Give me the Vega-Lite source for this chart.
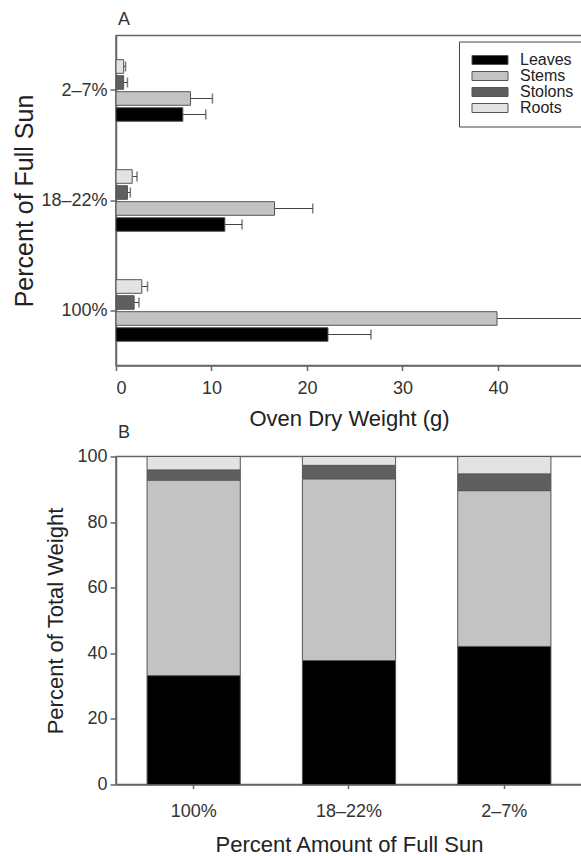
{
  "$schema": "https://vega.github.io/schema/vega-lite/v6.json",
  "padding": {"left": 12, "top": 9.5, "right": 0, "bottom": 0},
  "spacing": -9,
  "config": {
    "font": "Liberation Sans",
    "view": {"stroke": "#666", "strokeWidth": 1.5},
    "axis": {
      "domainColor": "#666", "domainWidth": 1.5, "tickColor": "#666", "tickWidth": 1.5,
      "labelColor": "#333", "titleColor": "#222", "labelFontSize": 18, "titleFontSize": 22,
      "titleFontWeight": "normal", "grid": false, "tickSize": 6, "labelPadding": 3
    },
    "title": {"anchor": "start", "frame": "group", "fontSize": 18, "fontWeight": "normal", "color": "#333"}
  },
  "datasets": {
    "weights": [
      {"sun": "2–7%", "part": "Leaves", "weight": 7.0, "upper": 9.4},
      {"sun": "2–7%", "part": "Stems", "weight": 7.8, "upper": 10.1},
      {"sun": "2–7%", "part": "Stolons", "weight": 0.8, "upper": 1.2},
      {"sun": "2–7%", "part": "Roots", "weight": 0.8, "upper": 1.0},
      {"sun": "18–22%", "part": "Leaves", "weight": 11.4, "upper": 13.2},
      {"sun": "18–22%", "part": "Stems", "weight": 16.6, "upper": 20.6},
      {"sun": "18–22%", "part": "Stolons", "weight": 1.2, "upper": 1.5},
      {"sun": "18–22%", "part": "Roots", "weight": 1.7, "upper": 2.2},
      {"sun": "100%", "part": "Leaves", "weight": 22.2, "upper": 26.7},
      {"sun": "100%", "part": "Stems", "weight": 39.9, "upper": 50.5},
      {"sun": "100%", "part": "Stolons", "weight": 1.9, "upper": 2.4},
      {"sun": "100%", "part": "Roots", "weight": 2.7, "upper": 3.3}
    ],
    "percents": [
      {"sun": "100%", "part": "Leaves", "pct": 33.2},
      {"sun": "100%", "part": "Stems", "pct": 59.6},
      {"sun": "100%", "part": "Stolons", "pct": 3.1},
      {"sun": "100%", "part": "Roots", "pct": 4.1},
      {"sun": "18–22%", "part": "Leaves", "pct": 37.8},
      {"sun": "18–22%", "part": "Stems", "pct": 55.4},
      {"sun": "18–22%", "part": "Stolons", "pct": 4.1},
      {"sun": "18–22%", "part": "Roots", "pct": 2.7},
      {"sun": "2–7%", "part": "Leaves", "pct": 42.1},
      {"sun": "2–7%", "part": "Stems", "pct": 47.5},
      {"sun": "2–7%", "part": "Stolons", "pct": 5.1},
      {"sun": "2–7%", "part": "Roots", "pct": 5.3}
    ]
  },
  "resolve": {"scale": {"color": "independent"}, "legend": {"color": "independent"}},
  "vconcat": [
    {
      "width": 466, "height": 330,
      "title": {"text": "A", "offset": 7, "fontSize": 18, "dx": 2},
      "data": {"name": "weights"},
      "encoding": {
        "y": {"field": "sun", "type": "nominal", "sort": ["2–7%", "18–22%", "100%"],
              "scale": {"paddingInner": 0.44, "paddingOuter": 0.22},
              "axis": {"title": "Percent of Full Sun", "titleFontSize": 25, "titlePadding": 3}},
        "yOffset": {"field": "part", "type": "nominal", "sort": ["Roots", "Stolons", "Stems", "Leaves"],
                    "scale": {"paddingInner": 0.15}}
      },
      "layer": [
        {
          "mark": {"type": "rule", "color": "#444", "strokeWidth": 1.2, "clip": true},
          "encoding": {
            "x": {"field": "weight", "type": "quantitative"},
            "x2": {"field": "upper"}
          }
        },
        {
          "mark": {"type": "tick", "orient": "vertical", "color": "#444", "thickness": 1.5, "size": 10, "clip": true},
          "encoding": {
            "x": {"field": "upper", "type": "quantitative"}
          }
        },
        {
          "mark": {"type": "bar", "stroke": "#555", "strokeWidth": 1},
          "encoding": {
            "x": {"field": "weight", "type": "quantitative",
                  "scale": {"domain": [0, 48.8], "nice": false},
                  "axis": {"title": "Oven Dry Weight (g)", "values": [0, 10, 20, 30, 40], "tickSize": 5,
                           "labelPadding": 8.7, "titlePadding": 11.7}},
            "color": {"field": "part", "type": "nominal",
                      "scale": {"domain": ["Leaves", "Stems", "Stolons", "Roots"],
                                "range": ["#000000", "#c3c3c3", "#5f5f5f", "#e3e3e3"]},
                      "legend": {"title": null, "orient": "none", "legendX": 343, "legendY": 6,
                                 "symbolType": "M-1.1,-0.9H6.1V0.9H-1.1Z", "symbolSize": 100,
                                 "symbolStrokeColor": "#555", "symbolStrokeWidth": 1,
                                 "labelFontSize": 16, "labelColor": "#222", "labelOffset": 34.5,
                                 "rowPadding": 0, "padding": 10.5, "strokeColor": "#444",
                                 "fillColor": "white"}}
          }
        }
      ]
    },
    {
      "width": 466, "height": 328,
      "title": {"text": "B", "offset": 6, "fontSize": 18, "dx": 2},
      "data": {"name": "percents"},
      "transform": [
        {"calculate": "indexof(['Leaves','Stems','Stolons','Roots'], datum.part)", "as": "ord"}
      ],
      "mark": {"type": "bar", "stroke": "#555", "strokeWidth": 1},
      "encoding": {
        "x": {"field": "sun", "type": "nominal", "sort": ["100%", "18–22%", "2–7%"],
              "scale": {"paddingInner": 0.4, "paddingOuter": 0.2},
              "axis": {"title": "Percent Amount of Full Sun", "labelAngle": 0, "tickSize": 4,
                       "labelPadding": 13.7, "titlePadding": 14.7}},
        "y": {"field": "pct", "type": "quantitative", "stack": "zero",
              "scale": {"domain": [0, 100], "nice": false},
              "axis": {"title": "Percent of Total Weight", "values": [0, 20, 40, 60, 80, 100], "titlePadding": 9.4}},
        "order": {"field": "ord", "type": "quantitative"},
        "color": {"field": "part", "type": "nominal",
                  "scale": {"domain": ["Leaves", "Stems", "Stolons", "Roots"],
                            "range": ["#000000", "#c3c3c3", "#5f5f5f", "#e3e3e3"]},
                  "legend": null}
      }
    }
  ]
}
